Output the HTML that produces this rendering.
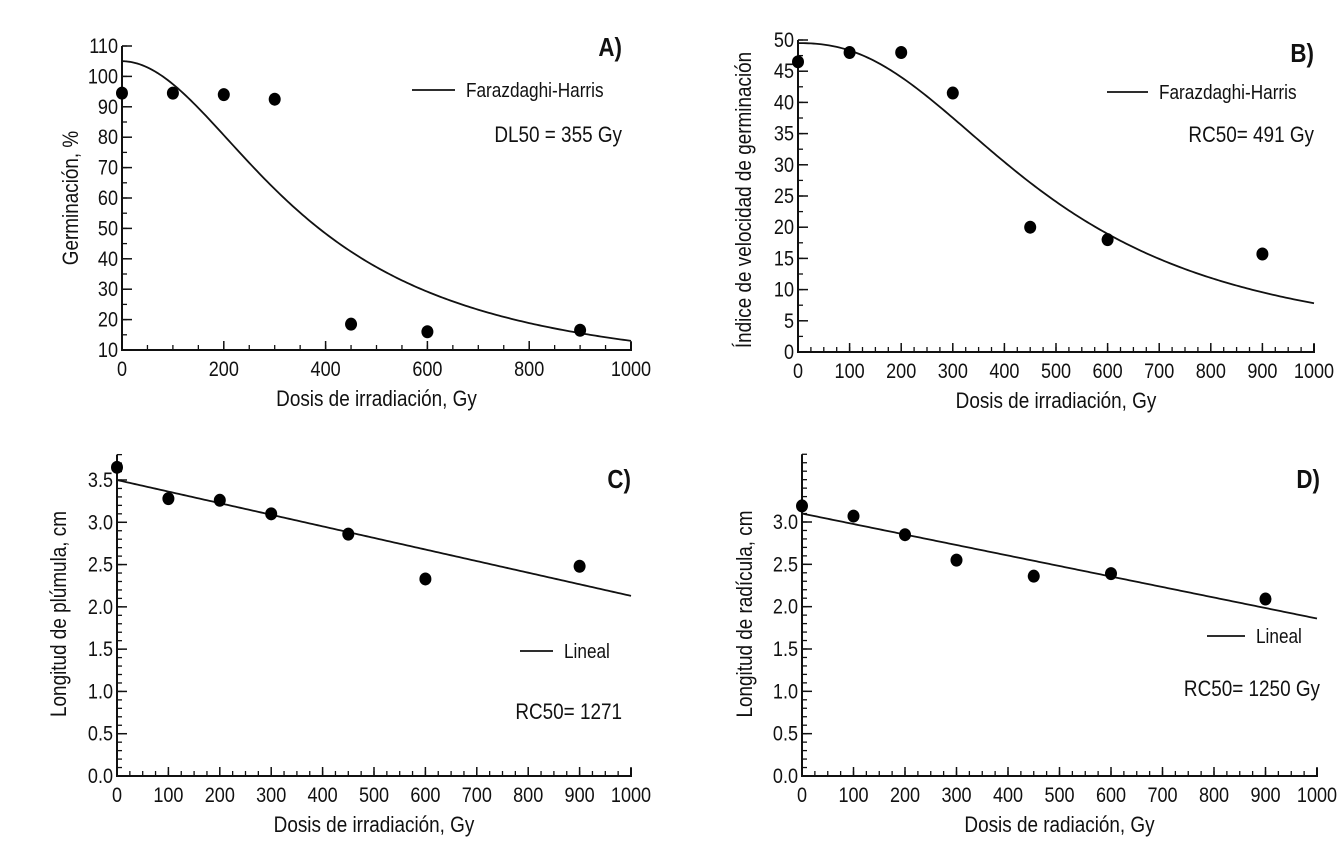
<!DOCTYPE html>
<html><head><meta charset="utf-8"><style>
html,body{margin:0;padding:0;background:#fff}
svg{display:block}
text{font-family:"Liberation Sans",Arial,sans-serif;fill:#111}
</style></head><body>
<svg id="fig" width="1339" height="843" viewBox="0 0 1339 843"></svg>
<script>
const doses = [0,100,200,300,450,600,900];
const germA = [94.5,94.5,94,92.5,18.5,16,16.5];
const ivgB = [46.5,48,48,41.5,20,18,15.7];
const plumC = [3.65,3.28,3.26,3.1,2.86,2.33,2.48];
const radD = [3.19,3.07,2.85,2.55,2.36,2.39,2.09];
// fitted model parameters: Farazdaghi-Harris y = 1/(a + b x^c), linear y = m0 + m1 x
const fhA = [1/105, 8.88e-8, 1.96];
const fhB = [1/49.5, 1.03e-8, 2.34];
const linC = [3.5, -0.00137];
const linD = [3.1, -0.00124];
const xTicksA = [0,200,400,600,800,1000];
const yTicksA = [10,20,30,40,50,60,70,80,90,100,110];
const xTicks100 = [0,100,200,300,400,500,600,700,800,900,1000];
const yTicksB = [0,5,10,15,20,25,30,35,40,45,50];
const yTicksC = [0,0.5,1,1.5,2,2.5,3,3.5];
const yTicksD = [0,0.5,1,1.5,2,2.5,3];

const NS='http://www.w3.org/2000/svg';
const svg=document.getElementById('fig');
function mk(tag,attrs,parent){const e=document.createElementNS(NS,tag);for(const k in attrs)e.setAttribute(k,attrs[k]);(parent||svg).appendChild(e);return e;}
function txt(parent,x,y,s,size,anchor,extra,rot){
  const t=mk('text',Object.assign({x:0,y:0,'text-anchor':anchor,'font-size':size,
    transform:`translate(${x},${y})${rot?' rotate(-90)':''} scale(0.86,1)`},extra||{}),parent);
  t.textContent=s;return t;
}

function panel(o){
  const g=mk('g',{});
  
  
  const sx=v=>o.x0+(v-o.xmin)/(o.xmax-o.xmin)*(o.x1-o.x0);
  const sy=v=>o.y0-(v-o.ymin)/(o.ymax-o.ymin)*(o.y0-o.y1);
  const ytop=sy(o.yTop);
  const ax=mk('path',{d:`M${o.x0},${ytop}V${o.y0}H${o.x1}V${o.y0-8}`,fill:'none',stroke:'#111','stroke-width':2},g);
  
  
  for(let v=o.xmin;v<=o.xmax+1e-9;v+=o.xMinor){mk('line',{x1:sx(v),x2:sx(v),y1:o.y0,y2:o.y0-5,stroke:'#111','stroke-width':1.3},g);}
  for(let v=o.ymin;v<=o.yTop+1e-9;v+=o.yMinor){mk('line',{x1:o.x0,x2:o.x0+5,y1:sy(v),y2:sy(v),stroke:'#111','stroke-width':1.3},g);}
  o.xt.forEach(v=>{
    mk('line',{x1:sx(v),x2:sx(v),y1:o.y0,y2:o.y0-9,stroke:'#111','stroke-width':1.5},g);
    const t=txt(g,sx(v),o.y0+26,String(v),21,'middle');
    
    
  });
  o.yt.forEach(v=>{
    mk('line',{x1:o.x0,x2:o.x0+10,y1:sy(v),y2:sy(v),stroke:'#111','stroke-width':1.5},g);
    const t=txt(g,o.x0-4,sy(v)+7,o.fmt(v),21,'end');
    
    
  });
  let d='';
  for(let i=0;i<=200;i++){const x=o.xmin+(o.xmax-o.xmin)*i/200;d+=(i?'L':'M')+sx(x).toFixed(2)+','+sy(o.f(x)).toFixed(2);}
  const c=mk('path',{d:d,fill:'none',stroke:'#111','stroke-width':1.8},g);
  
  
  o.xs.forEach((x,i)=>{
    const p=mk('ellipse',{cx:sx(x),cy:sy(o.ys[i]),rx:6,ry:6.5,fill:'#000'},g);
    
    
  });
  const xl=txt(g,(o.x0+o.x1)/2,o.y0+56,o.xlabel,22,'middle');
  
  
  const yl=txt(g,o.ylx,o.yly,o.ylabel,22,'middle',null,true);
  
  
  const pl=txt(g,o.letter[1],o.letter[2],o.letter[0],26,'end',{'font-weight':'bold'});
  
  
  const lg=mk('line',{x1:o.leg[0],x2:o.leg[1],y1:o.leg[2],y2:o.leg[2],stroke:'#111','stroke-width':1.8},g);
  
  
  const lt=txt(g,o.leg[1]+11,o.leg[2]+7,o.leg[3],20,'start');
  
  
  const an=txt(g,o.ann[1],o.ann[2],o.ann[0],22,'end');
  
  
}
const fh=p=>x=>1/(p[0]+p[1]*Math.pow(x,p[2]));
const lin=p=>x=>p[0]+p[1]*x;
panel({name:'panel-a',x0:122,x1:631,y0:350,y1:46,xmin:0,xmax:1000,ymin:10,ymax:110,yTop:110,xMinor:50,yMinor:5,
  xt:xTicksA,yt:yTicksA,fmt:v=>String(v),xs:doses,ys:germA,f:fh(fhA),
  xlabel:'Dosis de irradiación, Gy',ylabel:'Germinación, %',ylx:78,yly:198,
  letter:['A)',622,56],leg:[412,455,90,'Farazdaghi-Harris'],ann:['DL50 = 355 Gy',622,142]});
panel({name:'panel-b',x0:798,x1:1314,y0:352,y1:40,xmin:0,xmax:1000,ymin:0,ymax:50,yTop:50,xMinor:25,yMinor:2.5,
  xt:xTicks100,yt:yTicksB,fmt:v=>String(v),xs:doses,ys:ivgB,f:fh(fhB),
  xlabel:'Dosis de irradiación, Gy',ylabel:'Índice de velocidad de germinación',ylx:751,yly:200,
  letter:['B)',1314,62],leg:[1107,1148,92,'Farazdaghi-Harris'],ann:['RC50= 491 Gy',1314,142]});
panel({name:'panel-c',x0:117,x1:631,y0:776,y1:480,xmin:0,xmax:1000,ymin:0,ymax:3.5,yTop:3.8,xMinor:25,yMinor:0.1,
  xt:xTicks100,yt:yTicksC,fmt:v=>v.toFixed(1),xs:doses,ys:plumC,f:lin(linC),
  xlabel:'Dosis de irradiación, Gy',ylabel:'Longitud de plúmula, cm',ylx:66,yly:614,
  letter:['C)',631,488],leg:[520,553,651,'Lineal'],ann:['RC50= 1271',622,719]});
panel({name:'panel-d',x0:802,x1:1317,y0:776,y1:522,xmin:0,xmax:1000,ymin:0,ymax:3,yTop:3.8,xMinor:25,yMinor:0.1,
  xt:xTicks100,yt:yTicksD,fmt:v=>v.toFixed(1),xs:doses,ys:radD,f:lin(linD),
  xlabel:'Dosis de radiación, Gy',ylabel:'Longitud de radícula, cm',ylx:752,yly:614,
  letter:['D)',1320,488],leg:[1207,1245,636,'Lineal'],ann:['RC50= 1250 Gy',1320,696]});
</script>
</body></html>
